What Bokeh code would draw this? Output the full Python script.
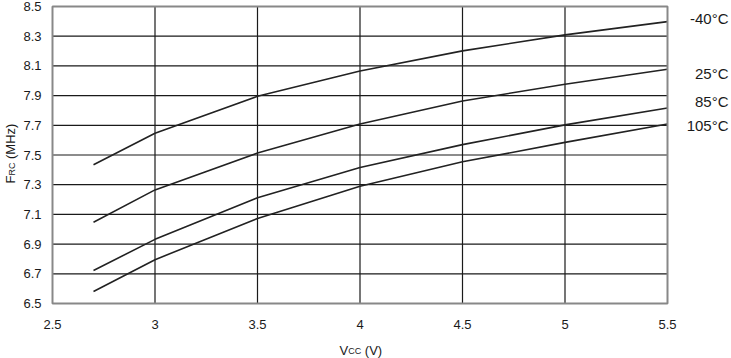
import math
from bokeh.plotting import figure
from bokeh.models import Range1d
from bokeh.core.properties import value
from bokeh.embed import file_html
from bokeh.resources import INLINE

# ---- data ----
vcc = [2.7, 3.0, 3.5, 4.0, 4.5, 5.0, 5.5]
f_m40 = [7.434, 7.646, 7.895, 8.066, 8.201, 8.309, 8.398]
f_25 = [7.047, 7.265, 7.513, 7.709, 7.864, 7.976, 8.078]
f_85 = [6.722, 6.932, 7.212, 7.416, 7.570, 7.703, 7.817]
f_105 = [6.581, 6.795, 7.073, 7.290, 7.454, 7.585, 7.709]
series_names = ["-40°C", "25°C", "85°C", "105°C"]
x_ticks = [2.5, 3, 3.5, 4, 4.5, 5, 5.5]
x_tick_labels = ["2.5", "3", "3.5", "4", "4.5", "5", "5.5"]
y_ticks = [6.5, 6.7, 6.9, 7.1, 7.3, 7.5, 7.7, 7.9, 8.1, 8.3, 8.5]
y_tick_labels = ["6.5", "6.7", "6.9", "7.1", "7.3", "7.5", "7.7", "7.9", "8.1", "8.3", "8.5"]

FONT = value("Liberation Sans")
TXT = "#1a1a1a"

# ---- layout: plot area spans pixels x 52..667, y 6..303 of a 731x358 canvas ----
W, H = 731, 358
PX_LEFT, PX_RIGHT, PX_TOP, PX_BOTTOM = 52, 667, 6, 303
x0, x1 = x_ticks[0], x_ticks[-1]
y0, y1 = y_ticks[0], y_ticks[-1]
sx = (PX_RIGHT - PX_LEFT) / (x1 - x0)
sy = (PX_BOTTOM - PX_TOP) / (y1 - y0)
xs = x0 - PX_LEFT / sx
xe = xs + W / sx
ye = y1 + PX_TOP / sy
ys = ye - H / sy


def dx(px):
    return xs + px / sx


def dy(py):
    return ye - py / sy


p = figure(width=W, height=H, output_backend="svg", toolbar_location=None,
           title=None, x_range=Range1d(xs, xe), y_range=Range1d(ys, ye),
           x_axis_location=None, y_axis_location=None,
           min_border=0, min_border_left=0, min_border_right=0,
           min_border_top=0, min_border_bottom=0)
p.outline_line_color = None
p.background_fill_color = "white"
p.border_fill_color = "white"
p.xgrid.visible = False
p.ygrid.visible = False

# grid lines
inner_x = x_ticks[1:-1]
inner_y = y_ticks[1:-1]
p.segment(x0=inner_x, x1=inner_x, y0=[y0] * len(inner_x), y1=[y1] * len(inner_x),
          line_color="#1a1a1a", line_width=1.2)
p.segment(x0=[x0] * len(inner_y), x1=[x1] * len(inner_y), y0=inner_y, y1=inner_y,
          line_color="#1a1a1a", line_width=1.2)

# curves
all_series = [f_m40, f_25, f_85, f_105]
for ys_ in all_series:
    p.line(vcc, ys_, line_color="#222222", line_width=1.6)

# frame
p.quad(left=[x0], right=[x1], bottom=[y0], top=[y1], fill_color=None,
       line_color="#888888", line_width=2)

# tick labels
p.text(x=[x0] * len(y_ticks), y=y_ticks, text=y_tick_labels, x_offset=-11,
       text_align="right", text_baseline="middle", text_font=FONT,
       text_font_size="13px", text_color=TXT)
p.text(x=x_ticks, y=[y0] * len(x_ticks), text=x_tick_labels, y_offset=21,
       text_align="center", text_baseline="middle", text_font=FONT,
       text_font_size="13px", text_color=TXT)

# series labels
label_dy = [-2.8, 4.3, -6.1, 1.5]
p.text(x=[vcc[-1]] * 4, y=[s[-1] for s in all_series], text=series_names,
       x_offset=61, y_offset=label_dy, text_align="right", text_baseline="middle",
       text_font=FONT, text_font_size="15px", text_color=TXT)

# x-axis title: V_CC (V)
p.text(x=[4.0], y=[y0], text=["V"], x_offset=-20.5, y_offset=46.5,
       text_align="left", text_baseline="alphabetic", text_font=FONT,
       text_font_size="13px", text_color=TXT)
p.text(x=[4.0], y=[y0], text=["CC"], x_offset=-11.8, y_offset=47.7,
       text_align="left", text_baseline="alphabetic", text_font=FONT,
       text_font_size="9px", text_color=TXT)
p.text(x=[4.0], y=[y0], text=["(V)"], x_offset=4.8, y_offset=46.5,
       text_align="left", text_baseline="alphabetic", text_font=FONT,
       text_font_size="13px", text_color=TXT)

# y-axis title: F_RC (MHz), rotated
ang = math.pi / 2
p.text(x=[dx(10)], y=[dy(183)], text=["F"], angle=ang,
       text_align="left", text_baseline="alphabetic", text_font=FONT,
       text_font_size="13px", text_color=TXT)
p.text(x=[dx(11.3)], y=[dy(175.1)], text=["RC"], angle=ang,
       text_align="left", text_baseline="alphabetic", text_font=FONT,
       text_font_size="9px", text_color=TXT)
p.text(x=[dx(10)], y=[dy(158.5)], text=["(MHz)"], angle=ang,
       text_align="left", text_baseline="alphabetic", text_font=FONT,
       text_font_size="13px", text_color=TXT)

open("out.html", "w").write(file_html(p, INLINE))
